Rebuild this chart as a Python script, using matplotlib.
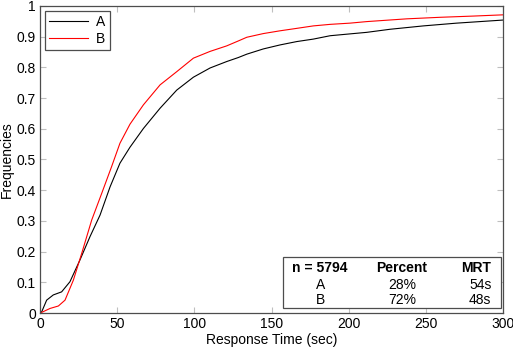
import numpy as np
import matplotlib
matplotlib.use("Agg")
import matplotlib.pyplot as plt
from matplotlib.patches import Rectangle

plt.rcParams["font.family"] = ["Liberation Sans", "DejaVu Sans"]

# cumulative response-time curves (time in sec, cumulative frequency)
t_a = [0, 1.1, 4.3, 8.6, 14, 19.4, 25.9, 32.4, 38.9, 45.4, 51.8, 58.3, 67, 77.8, 88.6,
       99.4, 110.2, 121, 128.5, 134, 144.7, 155.5, 166.4, 177.1, 188, 200.9,
       211.7, 226.8, 248.4, 270, 300]
f_a = [0, 0.004, 0.042, 0.059, 0.069, 0.102, 0.173, 0.249, 0.319, 0.411, 0.488, 0.540,
       0.601, 0.667, 0.726, 0.768, 0.798, 0.819, 0.832, 0.843, 0.860, 0.873, 0.884,
       0.892, 0.903, 0.909, 0.914, 0.924, 0.935, 0.944, 0.954]
t_b = [0, 1, 6.5, 11.9, 16.2, 21.6, 27, 33.5, 40, 46.4, 51.8, 58.3, 67, 77.8, 88.6,
       99.4, 110.2, 121, 128.5, 134, 144.7, 155.5, 166.4, 177.1, 188, 200.9, 211.7,
       237.7, 259.2, 280.8, 300]
f_b = [0, 0.002, 0.015, 0.023, 0.042, 0.107, 0.194, 0.303, 0.39, 0.477, 0.553, 0.615,
       0.678, 0.743, 0.786, 0.830, 0.852, 0.870, 0.886, 0.898, 0.910, 0.919, 0.927,
       0.935, 0.940, 0.944, 0.949, 0.958, 0.963, 0.967, 0.971]

n_total = 5794
groups = ["A", "B"]
percent = ["28%", "72%"]
mrt = ["54s", "48s"]

fig = plt.figure(figsize=(5.13, 3.49), dpi=100)
ax = fig.add_axes([0.078, 0.103, 0.9025, 0.880])
ax.plot(t_a, f_a, color="black", lw=0.8, label="A")
ax.plot(t_b, f_b, color="red", lw=0.8, label="B")

ax.set_xlim(0, 300)
ax.set_ylim(0, 1)
ax.set_xticks(np.arange(0, 301, 50))
ax.set_yticks(np.arange(0, 1.01, 0.1))
ax.set_yticklabels(["0"] + [f"{v:.1f}" for v in np.arange(0.1, 0.95, 0.1)] + ["1"])
ax.tick_params(direction="in", top=True, right=True, length=4, width=0.8,
               color="0.75", labelsize=10, labelcolor="black", pad=3)
for s in ax.spines.values():
    s.set_color("0.3")
    s.set_linewidth(0.9)
ax.set_xlabel("Response Time (sec)", fontsize=10, labelpad=1)
ax.set_ylabel("Frequencies", fontsize=10, labelpad=2)

leg = ax.legend(loc="upper left", fontsize=10, handlelength=2.8, borderpad=0.3,
                labelspacing=0.2, handletextpad=0.6, borderaxespad=0.35,
                fancybox=False, framealpha=1)
leg.get_frame().set_edgecolor("0.3")
leg.get_frame().set_linewidth(0.9)

# summary table in the lower-right corner
ax.add_patch(Rectangle((0.525, 0.016), 0.470, 0.168, transform=ax.transAxes,
                       facecolor="white", edgecolor="0.3", lw=0.9, zorder=3))
rows_y = [0.146, 0.091, 0.042]
ax.text(0.605, rows_y[0], f"n = {n_total}", transform=ax.transAxes, ha="center",
        va="center", fontsize=10, fontweight="bold", zorder=4)
ax.text(0.782, rows_y[0], "Percent", transform=ax.transAxes, ha="center",
        va="center", fontsize=10, fontweight="bold", zorder=4)
ax.text(0.975, rows_y[0], "MRT", transform=ax.transAxes, ha="right",
        va="center", fontsize=10, fontweight="bold", zorder=4)
for y, g, p, m in zip(rows_y[1:], groups, percent, mrt):
    ax.text(0.605, y, g, transform=ax.transAxes, ha="center", va="center",
            fontsize=10, zorder=4)
    ax.text(0.782, y, p, transform=ax.transAxes, ha="center", va="center",
            fontsize=10, zorder=4)
    ax.text(0.975, y, m, transform=ax.transAxes, ha="right", va="center",
            fontsize=10, zorder=4)

fig.savefig("out.png", dpi=100)
